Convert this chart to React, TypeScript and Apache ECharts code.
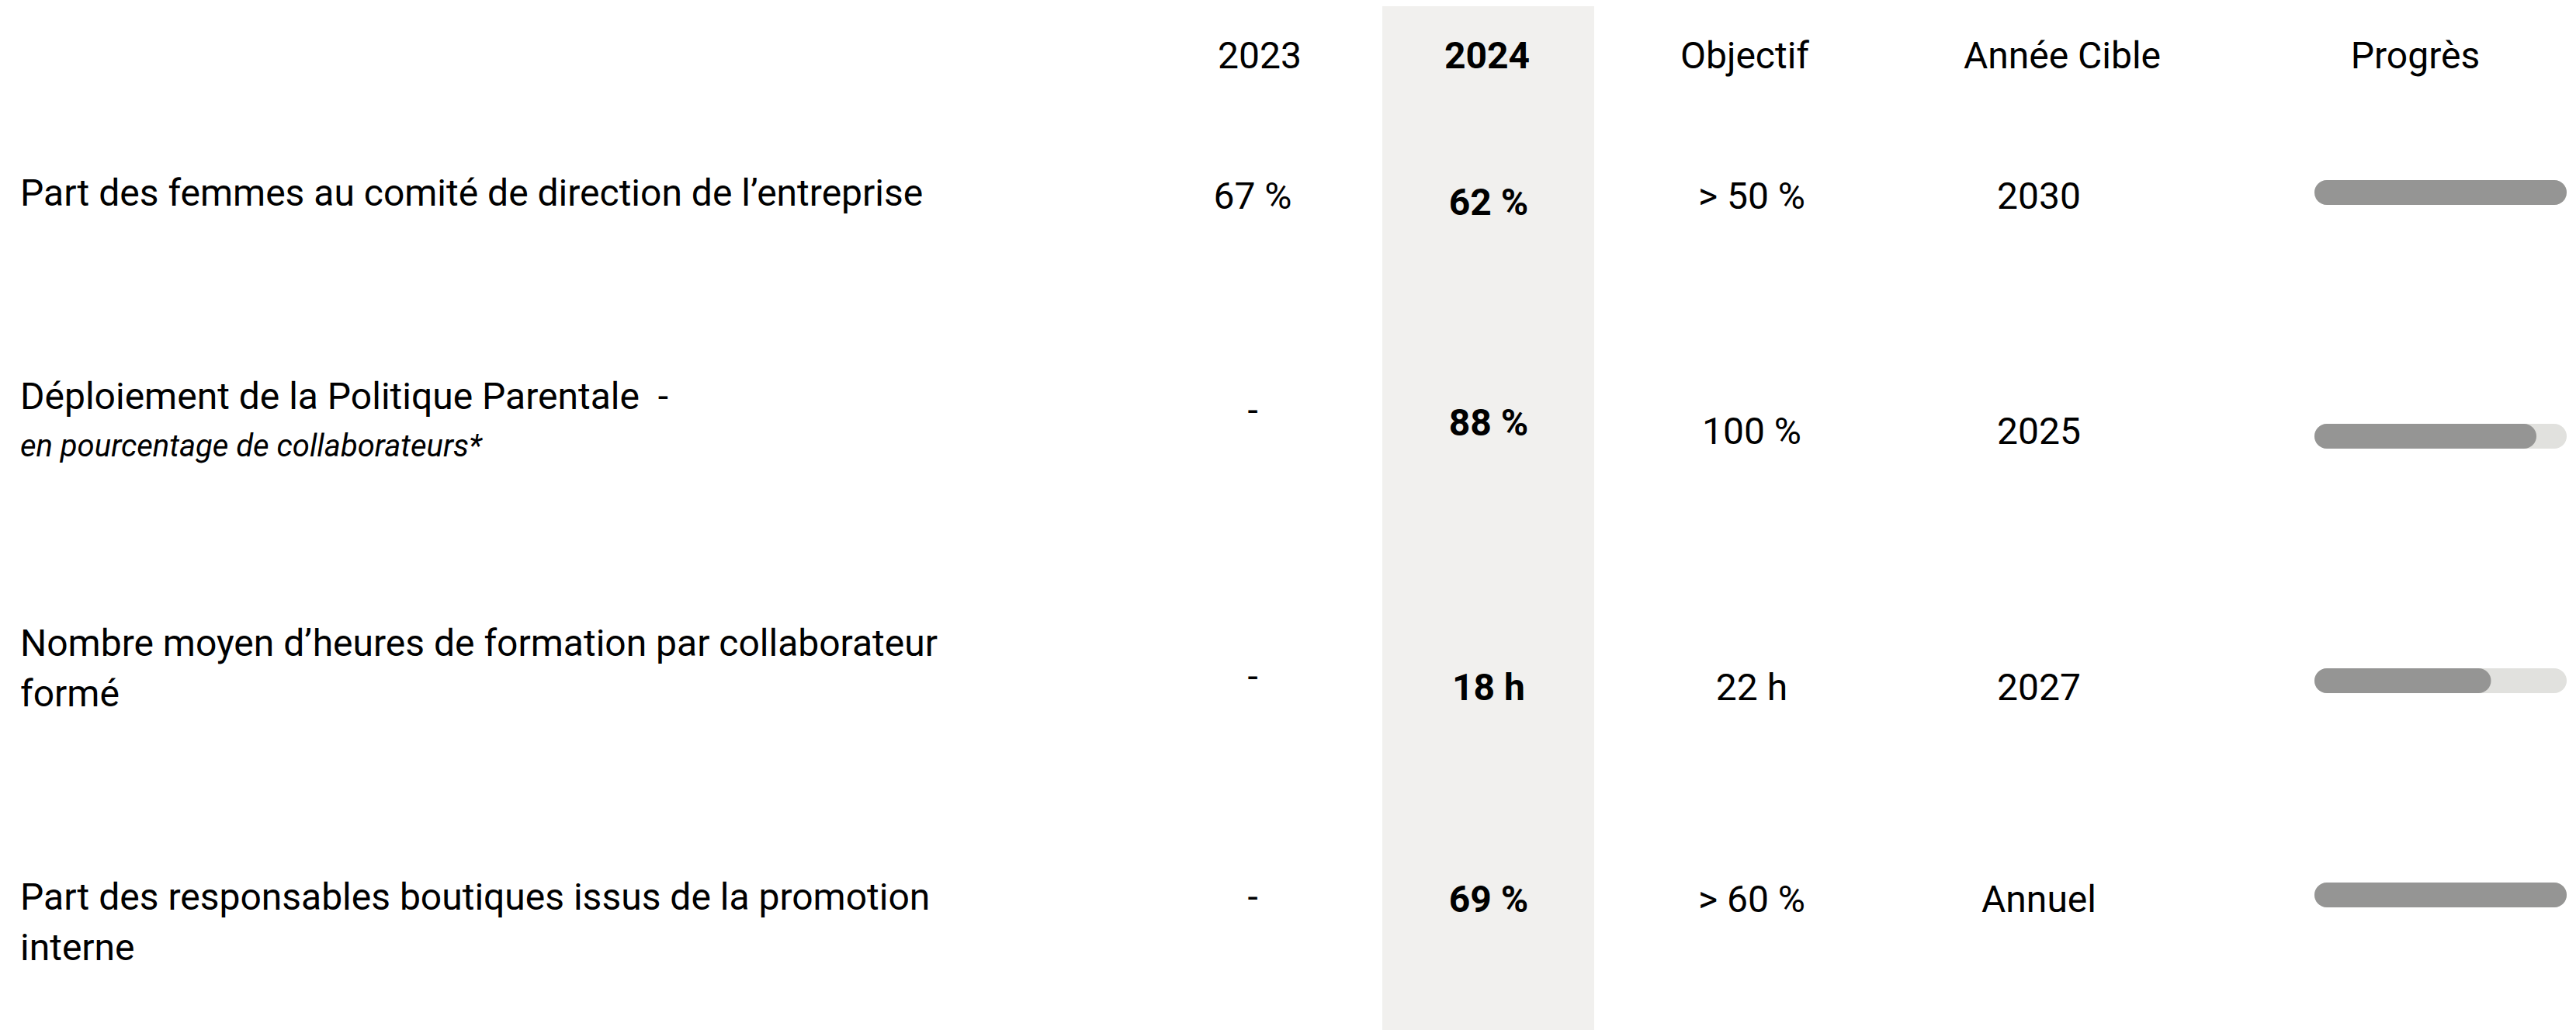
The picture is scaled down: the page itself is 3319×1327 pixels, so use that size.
import React, { useEffect, useRef } from "react";
import * as echarts from "echarts";

// ---- Data ----
const headers = ["2023", "2024", "Objectif", "Année Cible", "Progrès"];
const rowLabels = [
  "Part des femmes au comité de direction de l’entreprise",
  "Déploiement de la Politique Parentale  -",
  "Nombre moyen d’heures de formation par collaborateur\nformé",
  "Part des responsables boutiques issus de la promotion\ninterne",
];
const rowSubLabels = ["", "en pourcentage de collaborateurs*", "", ""];
const values2023 = ["67 %", "-", "-", "-"];
const values2024 = ["62 %", "88 %", "18 h", "69 %"];
const objectives = ["> 50 %", "100 %", "22 h", "> 60 %"];
const targetYears = ["2030", "2025", "2027", "Annuel"];
const progress = [100, 88, 70, 100];

// ---- Layout (pixels) ----
const W = 3319;
const H = 1327;
const FONT = "Roboto";
const FS = 48;
const LINE_H = 65;
const headerY = 71;
const headerX = [1623, 1916, 2248, 2657, 3112];
const labelX = 26;
const labelY = [248, 510, 828, 1155];
const subLabelY = [0, 574, 0, 0];
const col2023X = 1614;
const col2024X = 1918;
const colObjX = 2257;
const colYearX = 2627;
const y2023 = [252, 528, 871, 1155];
const y2024 = [260, 544, 885, 1158];
const yObj = [252, 555, 885, 1158];
const yYear = [252, 555, 885, 1158];
const barY = [248, 562, 877, 1153];
const barLeft = 2982;
const barWidth = 325;
const barThick = 32;

const FILL = "#959594";
const TRACK = "#e1e1de";
const HIGHLIGHT = "#f1f0ee";
const INK = "#000000";

function txt(text: string, x: number, y: number, opts: any = {}) {
  return {
    type: "text",
    x,
    y,
    silent: true,
    style: {
      text,
      fill: INK,
      font: `${opts.italic ? "italic " : ""}${opts.bold ? "bold " : ""}${opts.size || FS}px ${FONT}`,
      fontFamily: FONT,
      fontSize: opts.size || FS,
      fontWeight: opts.bold ? "bold" : "normal",
      fontStyle: opts.italic ? "italic" : "normal",
      align: opts.align || "center",
      verticalAlign: opts.va || "middle",
      lineHeight: opts.lineHeight,
    },
  };
}

export default function App() {
  const ref = useRef<HTMLDivElement>(null);

  useEffect(() => {
    if (!ref.current) return;
    const chart = echarts.init(ref.current, undefined, { renderer: "svg" });

    const graphics: any[] = [];
    graphics.push({
      type: "rect",
      silent: true,
      z: -10,
      shape: { x: 1781, y: 8, width: 273, height: H - 8 },
      style: { fill: HIGHLIGHT },
    });
    headers.forEach((h, i) => {
      graphics.push(txt(h, headerX[i], headerY, { bold: i === 1 }));
    });
    rowLabels.forEach((l, i) => {
      graphics.push(
        txt(l, labelX, labelY[i] - LINE_H / 2, {
          align: "left",
          va: "top",
          lineHeight: LINE_H,
        })
      );
      if (rowSubLabels[i]) {
        graphics.push(
          txt(rowSubLabels[i], labelX, subLabelY[i], {
            align: "left",
            italic: true,
            size: 40,
          })
        );
      }
      graphics.push(txt(values2023[i], col2023X, y2023[i]));
      graphics.push(txt(values2024[i], col2024X, y2024[i], { bold: true }));
      graphics.push(txt(objectives[i], colObjX, yObj[i]));
      graphics.push(txt(targetYears[i], colYearX, yYear[i]));
    });

    const grids = progress.map((_, i) => ({
      left: barLeft,
      width: barWidth,
      top: barY[i] - barThick / 2,
      height: barThick,
      containLabel: false,
    }));
    const xAxes = progress.map((_, i) => ({
      type: "value",
      gridIndex: i,
      min: 0,
      max: 100,
      show: false,
    }));
    const yAxes = progress.map((_, i) => ({
      type: "category",
      gridIndex: i,
      data: [rowLabels[i]],
      show: false,
    }));
    const series = progress.map((p, i) => ({
      type: "bar",
      xAxisIndex: i,
      yAxisIndex: i,
      data: [p],
      barWidth: barThick,
      showBackground: true,
      backgroundStyle: { color: TRACK, borderRadius: barThick / 2 },
      itemStyle: { color: FILL, borderRadius: barThick / 2 },
      silent: true,
    }));

    chart.setOption({
      animation: false,
      backgroundColor: "#ffffff",
      grid: grids,
      xAxis: xAxes,
      yAxis: yAxes,
      series,
      graphic: { elements: graphics },
    });

    return () => chart.dispose();
  }, []);

  return (
    <div
      ref={ref}
      style={{ position: "absolute", left: 0, top: 0, width: W, height: H }}
    />
  );
}
